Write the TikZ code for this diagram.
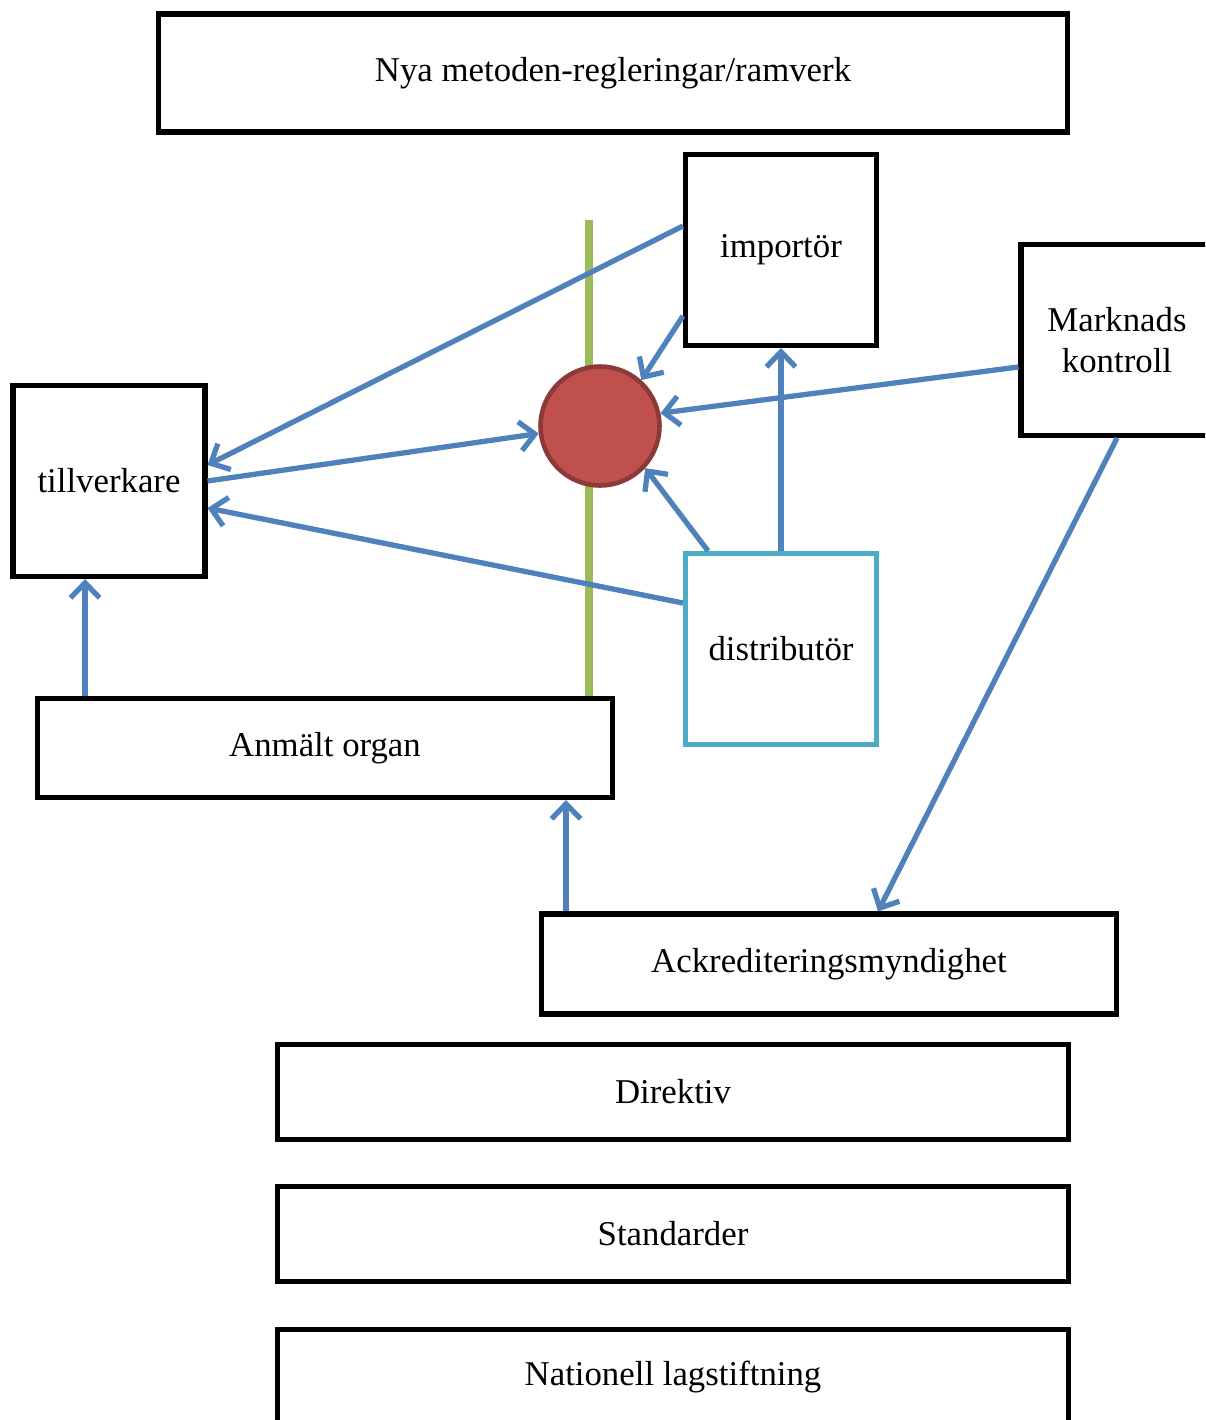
\documentclass[tikz,border=0pt]{standalone}
\usepackage{fontspec}
\setmainfont{Liberation Serif}
\usetikzlibrary{arrows.meta}
\definecolor{arrowblue}{HTML}{4F81BD}
\definecolor{dotred}{HTML}{C0504D}
\definecolor{dotborder}{HTML}{8C3A38}
\definecolor{linegreen}{HTML}{9BBB59}
\definecolor{distcyan}{HTML}{4BACC6}
\tikzset{
  box/.style={draw=black, line width=2.9pt, fill=white, align=center, font=\fontsize{19.8}{23}\selectfont},
  arr/.style={draw=arrowblue, line width=3pt, -{Straight Barb[length=3mm,width=5.8mm]}}
}

\begin{document}
\begin{tikzpicture}[x=0.02cm, y=-0.02cm]
		\clip (0,0) rectangle (1205,1420);
		\fill[white] (0,0) rectangle (1205,1420);
		% green line behind everything
		\coordinate (gtop) at (589,220);
		\node[box, minimum width=11.5cm, minimum height=1.98cm] (anm) at (325,748) {Anmält organ};
		\draw[linegreen, line width=4.2pt] (gtop) -- (gtop |- anm.north);
		\node[circle, draw=dotborder, fill=dotred, line width=2.6pt, minimum size=2.38cm] (dot) at (600,426) {};
		% boxes
		\node[box, minimum width=18.2cm, minimum height=2.36cm] (nya) at (613,73) {Nya metoden-regleringar/ramverk};
		\node[box, minimum width=3.82cm, minimum height=3.82cm] (imp) at (781,250) {importör};
		\node[box, minimum width=3.84cm, minimum height=3.82cm] (mk) at (1117,340) {Marknads\\kontroll};
		\node[box, minimum width=3.84cm, minimum height=3.82cm] (till) at (109,481) {tillverkare};
		\node[box, draw=distcyan, minimum width=3.82cm, minimum height=3.82cm] (dist) at (781,649) {distributör};
		\node[box, minimum width=11.5cm, minimum height=2cm] (ack) at (829,964) {Ackrediteringsmyndighet};
		\node[box, minimum width=15.82cm, minimum height=1.9cm] (dir) at (673,1092) {Direktiv};
		\node[box, minimum width=15.82cm, minimum height=1.9cm] (std) at (673,1234) {Standarder};
		\node[box, minimum width=15.82cm, minimum height=1.9cm] (nat) at (673,1377) {Nationell lagstiftning};
		% arrows
		\draw[arr] ([yshift=0.48cm]imp.west) -- ([yshift=0.32cm]till.east);
		\draw[arr] ([yshift=-1.32cm]imp.west) -- (dot.48);
		\draw[arr] (till.east) -- (dot.187);
		\draw[arr] ([yshift=-0.54cm]mk.west) -- (dot.12);
		\draw[arr] ([xshift=-1.46cm]dist.north) -- (dot.-43);
		\draw[arr] (dist.north) -- (imp.south);
		\draw[arr] ([yshift=0.92cm]dist.west) -- ([yshift=-0.54cm]till.east);
		\draw[arr] (mk.south) -- ([xshift=0.98cm]ack.north);
		\coordinate (anmL) at ([xshift=-4.8cm]anm.north);
		\draw[arr] (anmL) -- (anmL |- till.south);
		\coordinate (ackL) at ([xshift=-5.26cm]ack.north);
		\draw[arr] (ackL) -- (ackL |- anm.south);
\end{tikzpicture}
\end{document}
